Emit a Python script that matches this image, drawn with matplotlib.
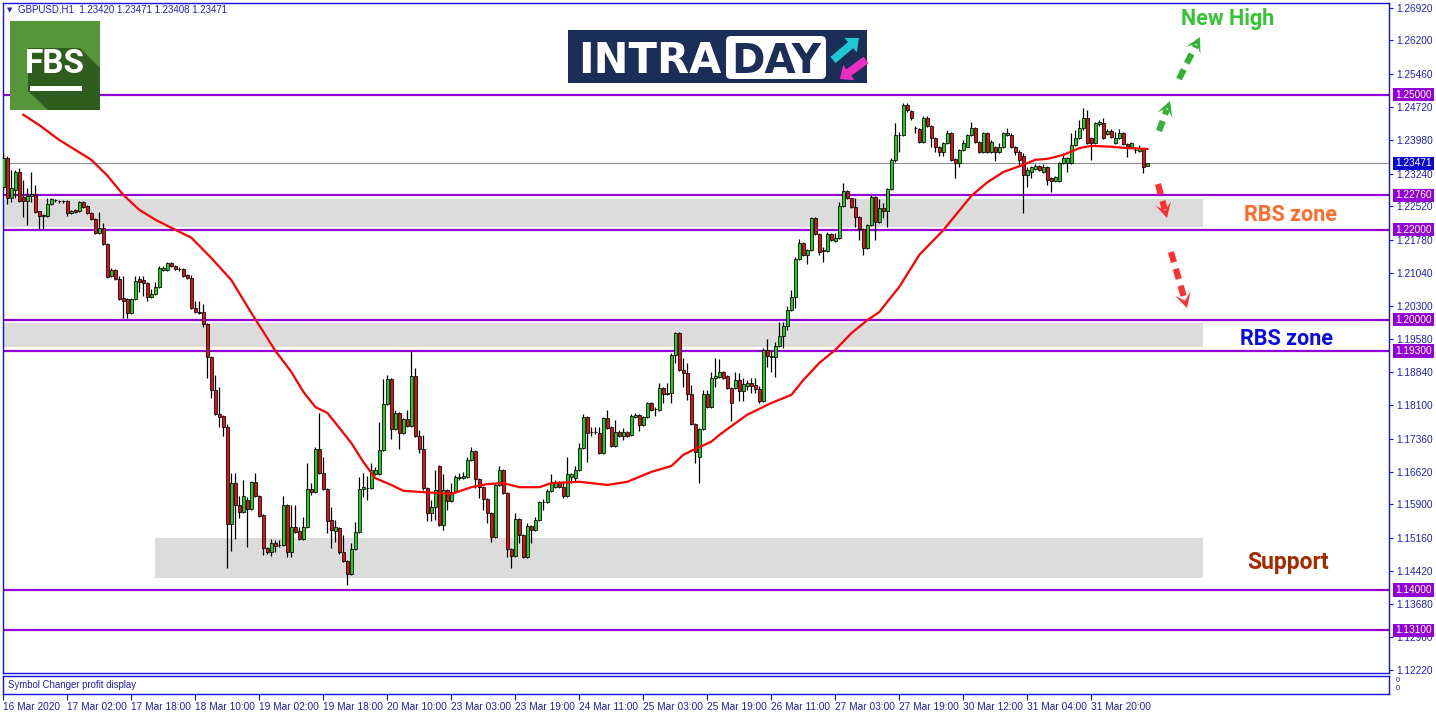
import matplotlib
matplotlib.use('Agg')
import matplotlib.pyplot as plt
import numpy as np
from matplotlib.patches import Rectangle, Polygon, FancyBboxPatch, FancyArrow

plt.rcParams['font.family'] = ['Liberation Sans', 'DejaVu Sans']

# ---- GBPUSD H1 candles (16 Mar 2020 10:00 .. 1 Apr 2020) ----
open_px = [
    1.2294, 1.2359, 1.2270, 1.2288, 1.2328, 1.2272, 1.2264, 1.2275, 1.2277, 1.2242,
    1.2233, 1.2231, 1.2257, 1.2266, 1.2264, 1.2264, 1.2264, 1.2237, 1.2244, 1.2242,
    1.2262, 1.2253, 1.2237, 1.2224, 1.2192, 1.2203, 1.2168, 1.2097, 1.2110, 1.2090,
    1.2048, 1.2046, 1.2015, 1.2046, 1.2090, 1.2088, 1.2081, 1.2051, 1.2057, 1.2073,
    1.2110, 1.2110, 1.2126, 1.2119, 1.2112, 1.2112, 1.2099, 1.2092, 1.2026, 1.2017,
    1.2017, 1.1990, 1.1917, 1.1844, 1.1791, 1.1786, 1.1762, 1.1546, 1.1637, 1.1588,
    1.1573, 1.1600, 1.1580, 1.1640, 1.1609, 1.1566, 1.1493, 1.1484, 1.1504, 1.1500,
    1.1500, 1.1588, 1.1484, 1.1540, 1.1531, 1.1513, 1.1540, 1.1624, 1.1617, 1.1713,
    1.1659, 1.1624, 1.1555, 1.1531, 1.1538, 1.1484, 1.1464, 1.1435, 1.1491, 1.1529,
    1.1624, 1.1626, 1.1626, 1.1657, 1.1657, 1.1711, 1.1813, 1.1868, 1.1757, 1.1793,
    1.1749, 1.1780, 1.1764, 1.1875, 1.1742, 1.1713, 1.1626, 1.1571, 1.1584, 1.1675,
    1.1544, 1.1622, 1.1597, 1.1617, 1.1648, 1.1648, 1.1651, 1.1688, 1.1708, 1.1646,
    1.1628, 1.1602, 1.1571, 1.1518, 1.1633, 1.1666, 1.1615, 1.1491, 1.1475, 1.1558,
    1.1522, 1.1473, 1.1542, 1.1533, 1.1555, 1.1595, 1.1595, 1.1620, 1.1628, 1.1640,
    1.1628, 1.1609, 1.1650, 1.1648, 1.1666, 1.1715, 1.1784, 1.1751, 1.1751, 1.1749,
    1.1704, 1.1782, 1.1762, 1.1720, 1.1751, 1.1742, 1.1751, 1.1744, 1.1784, 1.1789,
    1.1766, 1.1784, 1.1815, 1.1802, 1.1800, 1.1849, 1.1835, 1.1838, 1.1922, 1.1971,
    1.1888, 1.1882, 1.1835, 1.1768, 1.1695, 1.1757, 1.1835, 1.1806, 1.1870, 1.1873,
    1.1884, 1.1875, 1.1849, 1.1849, 1.1866, 1.1842, 1.1853, 1.1860, 1.1855, 1.1846,
    1.1820, 1.1933, 1.1920, 1.1917, 1.1942, 1.1964, 1.1986, 1.2022, 1.2051, 1.2135,
    1.2170, 1.2144, 1.2155, 1.2226, 1.2190, 1.2155, 1.2153, 1.2190, 1.2175, 1.2182,
    1.2253, 1.2286, 1.2270, 1.2250, 1.2228, 1.2201, 1.2159, 1.2210, 1.2272, 1.2217,
    1.2248, 1.2242, 1.2290, 1.2355, 1.2410, 1.2410, 1.2477, 1.2464, 1.2426, 1.2424,
    1.2395, 1.2448, 1.2430, 1.2404, 1.2384, 1.2373, 1.2393, 1.2415, 1.2357, 1.2348,
    1.2377, 1.2384, 1.2410, 1.2426, 1.2395, 1.2373, 1.2415, 1.2373, 1.2384, 1.2373,
    1.2384, 1.2410, 1.2410, 1.2384, 1.2373, 1.2364, 1.2321, 1.2328, 1.2334, 1.2341,
    1.2328, 1.2339, 1.2315, 1.2308, 1.2308, 1.2348, 1.2348, 1.2348, 1.2388, 1.2404,
    1.2426, 1.2448, 1.2404, 1.2393, 1.2435, 1.2437, 1.2412, 1.2419, 1.2393, 1.2404,
    1.2415, 1.2390, 1.2384, 1.2377, 1.2375, 1.2379, 1.23420,
]
high_px = [
    1.2370, 1.2364, 1.2332, 1.2332, 1.2337, 1.2310, 1.2292, 1.2328, 1.2299, 1.2242,
    1.2235, 1.2270, 1.2270, 1.2268, 1.2266, 1.2266, 1.2266, 1.2244, 1.2246, 1.2264,
    1.2264, 1.2255, 1.2240, 1.2226, 1.2240, 1.2214, 1.2170, 1.2115, 1.2112, 1.2097,
    1.2097, 1.2048, 1.2048, 1.2097, 1.2097, 1.2097, 1.2084, 1.2068, 1.2084, 1.2119,
    1.2119, 1.2128, 1.2128, 1.2121, 1.2117, 1.2115, 1.2101, 1.2099, 1.2042, 1.2042,
    1.2035, 1.1993, 1.1920, 1.1877, 1.1851, 1.1789, 1.1768, 1.1659, 1.1659, 1.1609,
    1.1644, 1.1606, 1.1642, 1.1659, 1.1611, 1.1568, 1.1495, 1.1513, 1.1511, 1.1511,
    1.1609, 1.1591, 1.1588, 1.1588, 1.1540, 1.1562, 1.1682, 1.1637, 1.1717, 1.1793,
    1.1695, 1.1626, 1.1584, 1.1555, 1.1540, 1.1522, 1.1466, 1.1504, 1.1551, 1.1651,
    1.1659, 1.1653, 1.1682, 1.1673, 1.1773, 1.1868, 1.1877, 1.1870, 1.1800, 1.1795,
    1.1782, 1.1800, 1.1931, 1.1893, 1.1755, 1.1744, 1.1628, 1.1600, 1.1666, 1.1677,
    1.1657, 1.1624, 1.1637, 1.1655, 1.1659, 1.1662, 1.1695, 1.1717, 1.1711, 1.1648,
    1.1631, 1.1604, 1.1573, 1.1635, 1.1675, 1.1668, 1.1617, 1.1493, 1.1571, 1.1560,
    1.1524, 1.1549, 1.1544, 1.1562, 1.1597, 1.1602, 1.1624, 1.1657, 1.1644, 1.1642,
    1.1642, 1.1695, 1.1659, 1.1675, 1.1726, 1.1791, 1.1786, 1.1762, 1.1762, 1.1762,
    1.1784, 1.1800, 1.1764, 1.1777, 1.1755, 1.1760, 1.1753, 1.1791, 1.1793, 1.1791,
    1.1786, 1.1817, 1.1817, 1.1806, 1.1860, 1.1851, 1.1860, 1.1926, 1.1973, 1.1973,
    1.1915, 1.1904, 1.1855, 1.1771, 1.1760, 1.1844, 1.1844, 1.1884, 1.1915, 1.1913,
    1.1886, 1.1877, 1.1851, 1.1884, 1.1882, 1.1870, 1.1866, 1.1870, 1.1870, 1.1853,
    1.1937, 1.1957, 1.1933, 1.1951, 1.1995, 1.1995, 1.2031, 1.2066, 1.2139, 1.2179,
    1.2173, 1.2157, 1.2228, 1.2228, 1.2192, 1.2162, 1.2195, 1.2192, 1.2192, 1.2262,
    1.2304, 1.2288, 1.2270, 1.2270, 1.2231, 1.2204, 1.2213, 1.2277, 1.2275, 1.2268,
    1.2259, 1.2292, 1.2359, 1.2437, 1.2417, 1.2481, 1.2481, 1.2466, 1.2430, 1.2426,
    1.2452, 1.2452, 1.2432, 1.2406, 1.2386, 1.2395, 1.2421, 1.2417, 1.2359, 1.2379,
    1.2399, 1.2412, 1.2439, 1.2428, 1.2397, 1.2417, 1.2417, 1.2399, 1.2386, 1.2393,
    1.2417, 1.2426, 1.2415, 1.2386, 1.2377, 1.2370, 1.2339, 1.2341, 1.2346, 1.2344,
    1.2346, 1.2341, 1.2317, 1.2319, 1.2350, 1.2370, 1.2362, 1.2415, 1.2421, 1.2443,
    1.2470, 1.2466, 1.2406, 1.2439, 1.2443, 1.2448, 1.2424, 1.2424, 1.2417, 1.2424,
    1.2417, 1.2393, 1.2395, 1.2384, 1.2388, 1.2381, 1.23471,
]
low_px = [
    1.2288, 1.2257, 1.2262, 1.2270, 1.2262, 1.2228, 1.2210, 1.2262, 1.2237, 1.2201,
    1.2201, 1.2228, 1.2255, 1.2262, 1.2259, 1.2259, 1.2231, 1.2235, 1.2237, 1.2240,
    1.2248, 1.2235, 1.2221, 1.2190, 1.2190, 1.2166, 1.2092, 1.2094, 1.2088, 1.2044,
    1.2004, 1.2004, 1.2013, 1.2044, 1.2062, 1.2053, 1.2042, 1.2048, 1.2055, 1.2070,
    1.2108, 1.2108, 1.2117, 1.2110, 1.2108, 1.2094, 1.2090, 1.2024, 1.2015, 1.2013,
    1.1983, 1.1870, 1.1826, 1.1789, 1.1762, 1.1742, 1.1448, 1.1486, 1.1513, 1.1560,
    1.1571, 1.1495, 1.1577, 1.1606, 1.1562, 1.1478, 1.1480, 1.1475, 1.1484, 1.1495,
    1.1497, 1.1473, 1.1473, 1.1526, 1.1511, 1.1511, 1.1538, 1.1611, 1.1615, 1.1657,
    1.1622, 1.1526, 1.1493, 1.1506, 1.1480, 1.1462, 1.1411, 1.1433, 1.1489, 1.1526,
    1.1606, 1.1600, 1.1624, 1.1655, 1.1655, 1.1708, 1.1811, 1.1735, 1.1755, 1.1713,
    1.1746, 1.1762, 1.1762, 1.1740, 1.1704, 1.1622, 1.1553, 1.1553, 1.1555, 1.1542,
    1.1533, 1.1577, 1.1595, 1.1615, 1.1644, 1.1646, 1.1648, 1.1686, 1.1626, 1.1604,
    1.1577, 1.1549, 1.1506, 1.1515, 1.1631, 1.1613, 1.1473, 1.1448, 1.1473, 1.1504,
    1.1471, 1.1471, 1.1504, 1.1531, 1.1553, 1.1577, 1.1593, 1.1617, 1.1626, 1.1626,
    1.1604, 1.1606, 1.1637, 1.1640, 1.1664, 1.1713, 1.1684, 1.1742, 1.1746, 1.1702,
    1.1702, 1.1757, 1.1717, 1.1717, 1.1740, 1.1733, 1.1740, 1.1742, 1.1782, 1.1753,
    1.1764, 1.1782, 1.1797, 1.1786, 1.1797, 1.1815, 1.1833, 1.1815, 1.1904, 1.1886,
    1.1851, 1.1822, 1.1766, 1.1682, 1.1637, 1.1755, 1.1804, 1.1804, 1.1851, 1.1870,
    1.1868, 1.1846, 1.1775, 1.1846, 1.1820, 1.1820, 1.1844, 1.1838, 1.1838, 1.1815,
    1.1817, 1.1895, 1.1884, 1.1873, 1.1940, 1.1937, 1.1977, 1.2020, 1.2026, 1.2133,
    1.2142, 1.2124, 1.2153, 1.2188, 1.2144, 1.2128, 1.2150, 1.2175, 1.2173, 1.2179,
    1.2250, 1.2268, 1.2248, 1.2206, 1.2177, 1.2144, 1.2157, 1.2208, 1.2177, 1.2215,
    1.2226, 1.2206, 1.2288, 1.2350, 1.2373, 1.2408, 1.2461, 1.2443, 1.2415, 1.2392,
    1.2392, 1.2428, 1.2384, 1.2373, 1.2364, 1.2364, 1.2390, 1.2353, 1.2315, 1.2339,
    1.2375, 1.2384, 1.2408, 1.2392, 1.2370, 1.2370, 1.2370, 1.2371, 1.2353, 1.2370,
    1.2381, 1.2408, 1.2381, 1.2366, 1.2344, 1.2237, 1.2294, 1.2315, 1.2332, 1.2330,
    1.2326, 1.2299, 1.2284, 1.2306, 1.2306, 1.2346, 1.2328, 1.2346, 1.2386, 1.2401,
    1.2421, 1.2390, 1.2355, 1.2390, 1.2430, 1.2401, 1.2410, 1.2404, 1.2390, 1.2401,
    1.2388, 1.2362, 1.2381, 1.2370, 1.2373, 1.2326, 1.23408,
]
close_px = [
    1.2359, 1.2270, 1.2292, 1.2328, 1.2264, 1.2264, 1.2275, 1.2279, 1.2240, 1.2231,
    1.2231, 1.2257, 1.2268, 1.2266, 1.2264, 1.2263, 1.2237, 1.2242, 1.2240, 1.2262,
    1.2250, 1.2237, 1.2224, 1.2192, 1.2203, 1.2168, 1.2094, 1.2110, 1.2090, 1.2046,
    1.2042, 1.2015, 1.2046, 1.2086, 1.2084, 1.2081, 1.2051, 1.2057, 1.2073, 1.2115,
    1.2115, 1.2126, 1.2119, 1.2112, 1.2112, 1.2097, 1.2092, 1.2026, 1.2017, 1.2015,
    1.1990, 1.1917, 1.1844, 1.1791, 1.1784, 1.1762, 1.1546, 1.1637, 1.1588, 1.1573,
    1.1609, 1.1580, 1.1640, 1.1609, 1.1564, 1.1493, 1.1484, 1.1504, 1.1497, 1.1500,
    1.1588, 1.1484, 1.1540, 1.1529, 1.1513, 1.1540, 1.1624, 1.1617, 1.1713, 1.1659,
    1.1624, 1.1553, 1.1533, 1.1540, 1.1484, 1.1464, 1.1435, 1.1491, 1.1529, 1.1624,
    1.1628, 1.1626, 1.1666, 1.1666, 1.1711, 1.1813, 1.1868, 1.1757, 1.1793, 1.1749,
    1.1780, 1.1764, 1.1875, 1.1742, 1.1713, 1.1626, 1.1571, 1.1584, 1.1622, 1.1544,
    1.1622, 1.1597, 1.1617, 1.1651, 1.1651, 1.1653, 1.1688, 1.1708, 1.1646, 1.1628,
    1.1602, 1.1571, 1.1518, 1.1633, 1.1666, 1.1615, 1.1491, 1.1475, 1.1558, 1.1522,
    1.1473, 1.1542, 1.1533, 1.1555, 1.1595, 1.1595, 1.1620, 1.1637, 1.1640, 1.1628,
    1.1609, 1.1657, 1.1657, 1.1666, 1.1715, 1.1784, 1.1749, 1.1751, 1.1750, 1.1704,
    1.1782, 1.1760, 1.1720, 1.1751, 1.1742, 1.1751, 1.1742, 1.1786, 1.1789, 1.1766,
    1.1784, 1.1815, 1.1800, 1.1802, 1.1849, 1.1835, 1.1838, 1.1922, 1.1971, 1.1888,
    1.1882, 1.1835, 1.1768, 1.1706, 1.1757, 1.1835, 1.1806, 1.1870, 1.1875, 1.1884,
    1.1870, 1.1849, 1.1815, 1.1866, 1.1842, 1.1857, 1.1860, 1.1853, 1.1846, 1.1820,
    1.1933, 1.1920, 1.1917, 1.1942, 1.1964, 1.1986, 1.2022, 1.2051, 1.2135, 1.2170,
    1.2144, 1.2155, 1.2226, 1.2190, 1.2150, 1.2153, 1.2190, 1.2177, 1.2182, 1.2253,
    1.2286, 1.2270, 1.2250, 1.2228, 1.2201, 1.2159, 1.2210, 1.2272, 1.2217, 1.2248,
    1.2242, 1.2290, 1.2355, 1.2410, 1.2410, 1.2477, 1.2466, 1.2448, 1.2426, 1.2395,
    1.2448, 1.2430, 1.2404, 1.2384, 1.2373, 1.2393, 1.2415, 1.2355, 1.2348, 1.2377,
    1.2393, 1.2410, 1.2426, 1.2395, 1.2373, 1.2415, 1.2373, 1.2395, 1.2373, 1.2384,
    1.2415, 1.2415, 1.2384, 1.2373, 1.2355, 1.2321, 1.2332, 1.2339, 1.2341, 1.2332,
    1.2339, 1.2310, 1.2308, 1.2317, 1.2348, 1.2359, 1.2359, 1.2388, 1.2404, 1.2426,
    1.2448, 1.2393, 1.2393, 1.2437, 1.2439, 1.2404, 1.2419, 1.2406, 1.2404, 1.2415,
    1.2390, 1.2384, 1.2393, 1.2377, 1.2381, 1.2339, 1.23471,
]

# moving average (at these bars)
ma_bar = [5, 9, 14, 18, 22, 26, 30, 34, 38, 42, 47, 52, 57, 62, 68, 72, 75, 78, 81, 83,
          87, 90, 93, 97, 100, 105, 109, 112, 117, 121, 125, 129, 134, 137, 144, 151,
          156, 159, 162, 167, 170, 173, 177, 179, 183, 186, 192, 197, 200, 204, 208,
          212, 216, 219, 222, 224, 229, 235, 242, 246, 250, 255, 258, 261, 265, 269,
          272, 277, 281, 286]
ma_val = [1.2455, 1.2432, 1.2399, 1.2377, 1.2355, 1.2320, 1.2277, 1.2244, 1.2222,
          1.2204, 1.2182, 1.2137, 1.2088, 1.2015, 1.1931, 1.1884, 1.1840, 1.1806,
          1.1793, 1.1771, 1.1726, 1.1684, 1.1648, 1.1633, 1.1620, 1.1617, 1.1615,
          1.1613, 1.1628, 1.1635, 1.1637, 1.1628, 1.1628, 1.1637, 1.1640, 1.1633,
          1.1640, 1.1651, 1.1662, 1.1675, 1.1700, 1.1713, 1.1729, 1.1744, 1.1770,
          1.1789, 1.1815, 1.1833, 1.1866, 1.1904, 1.1933, 1.1970, 1.1999, 1.2017,
          1.2051, 1.2073, 1.2144, 1.2199, 1.2275, 1.2305, 1.2328, 1.2344, 1.2355,
          1.2357, 1.2366, 1.2381, 1.2386, 1.2384, 1.2381, 1.2379]

levels = [1.25000, 1.22760, 1.22000, 1.20000, 1.19300, 1.14000, 1.13100]
last_price = 1.23471
zone_low = [1.2206, 1.1939, 1.1426]
zone_high = [1.2268, 1.1993, 1.1515]
zone_from = [-1, -1, 38]
zone_to = 300

y_ticks = [1.12220, 1.12960, 1.13680, 1.14420, 1.15160, 1.15900, 1.16620, 1.17360,
           1.18100, 1.18840, 1.19580, 1.20300, 1.21040, 1.21780, 1.22520, 1.23240,
           1.23980, 1.24720, 1.25460, 1.26200, 1.26920]
x_labels = ['16 Mar 2020', '17 Mar 02:00', '17 Mar 18:00', '18 Mar 10:00', '19 Mar 02:00',
            '19 Mar 18:00', '20 Mar 10:00', '23 Mar 03:00', '23 Mar 19:00', '24 Mar 11:00',
            '25 Mar 03:00', '25 Mar 19:00', '26 Mar 11:00', '27 Mar 03:00', '27 Mar 19:00',
            '30 Mar 12:00', '31 Mar 04:00', '31 Mar 20:00']

W, H = 1436, 716
fig = plt.figure(figsize=(W / 100, H / 100), dpi=100)


def pbox(x0, y0, x1, y1):
    # pixel rectangle (origin top-left) -> figure fractions
    return [x0 / W, 1 - y1 / H, (x1 - x0) / W, (y1 - y0) / H]


frame = '#1010e0'
navy = '#2020b4'
purple = '#9400d3'
fs = 7.3

ax = fig.add_axes(pbox(3, 3, 1389, 673))
ax2 = fig.add_axes(pbox(3, 676, 1389, 694))

o = np.array(open_px)
c = np.array(close_px)
x = np.arange(len(c))
up = c >= o
body_col = np.where(up, '#22cc22', '#dd1111')

for lo_z, hi_z, x0 in zip(zone_low, zone_high, zone_from):
    ax.add_patch(Rectangle((x0, lo_z), zone_to - x0, hi_z - lo_z,
                           fc='#dcdcdc', ec='none', zorder=1))
for lv in levels:
    ax.axhline(lv, color=purple, lw=1.6, zorder=2)
ax.axhline(last_price, color='#8c8c8c', lw=0.8, zorder=2)

ax.vlines(x, low_px, high_px, color='black', lw=0.9, zorder=3)
ax.bar(x, np.maximum(np.abs(c - o), 1e-6), bottom=np.minimum(o, c), width=0.75,
       color=body_col, edgecolor='black', linewidth=0.55, zorder=4)
ax.plot(ma_bar, ma_val, color='#ff0000', lw=1.6, zorder=5)

ax.set_xlim(-0.075, 346.4)
ax.set_ylim(1.12154, 1.27032)
ax.set_xticks([])
ax.yaxis.tick_right()
ax.set_yticks(y_ticks)
ax.set_yticklabels([f'{v:.5f}' for v in y_ticks])
ax.tick_params(axis='y', direction='out', length=3, width=0.8, color=frame,
               labelcolor=navy, labelsize=fs, pad=2)
for s in ax.spines.values():
    s.set_color(frame)
    s.set_linewidth(1.0)

tr = ax.get_yaxis_transform()
for lv in levels:
    ax.text(1.0045, lv, f'{lv:.5f}', transform=tr, ha='left', va='center', fontsize=fs,
            color='white', bbox=dict(boxstyle='square,pad=0.18', fc=purple, ec='none'),
            zorder=20, clip_on=False)
ax.text(1.0045, last_price, f'{last_price:.5f}', transform=tr, ha='left', va='center',
        fontsize=fs, color='white',
        bbox=dict(boxstyle='square,pad=0.18', fc='#0b0bd0', ec='none'),
        zorder=20, clip_on=False)

# indicator sub-window with the time axis
ax2.set_xlim(-0.075, 346.4)
ax2.set_ylim(0, 1)
ax2.set_yticks([])
ax2.set_xticks(np.arange(len(x_labels)) * 16)
ax2.set_xticklabels(x_labels)
for lbl in ax2.get_xticklabels():
    lbl.set_ha('left')
ax2.tick_params(axis='x', direction='out', length=4, width=0.8, color=frame,
                labelcolor=navy, labelsize=fs, pad=1.5)
for s in ax2.spines.values():
    s.set_color(frame)
    s.set_linewidth(1.0)
ax2.text(0.0036, 0.5, 'Symbol Changer profit display', transform=ax2.transAxes,
         ha='left', va='center', fontsize=6.9, color=navy)

# overlay in pixel coordinates for header, logos and hand-drawn notes
axo = fig.add_axes([0, 0, 1, 1])
axo.set_xlim(0, W)
axo.set_ylim(H, 0)
axo.axis('off')

axo.text(7, 10, '\u25bc', fontsize=5, color=navy, va='center', family='DejaVu Sans')
axo.text(18, 10, 'GBPUSD,H1  1.23420 1.23471 1.23408 1.23471', fontsize=7.0,
         color=navy, va='center')
axo.text(1396, 680, '0', fontsize=5.5, color=navy, va='center')
axo.text(1396, 689, '0', fontsize=5.5, color=navy, va='center')

# FBS logo
axo.add_patch(Rectangle((10, 21), 90, 89, fc='#56953a', ec='none'))
axo.add_patch(Polygon([(28, 48), (80, 48), (100, 68), (100, 110), (48, 110), (28, 91)],
                      closed=True, fc='#2f5d1f', ec='none'))
axo.text(55, 64, 'FBS', color='white', fontsize=24, fontweight='bold', family='Roboto',
         ha='center', va='center')
axo.add_patch(Rectangle((30, 86), 52, 5, fc='white', ec='none'))

# INTRADAY logo
axo.add_patch(Rectangle((568, 30), 299, 53, fc='#1b2e57', ec='none'))
axo.text(578, 73, 'INTRA', color='white', fontsize=30, fontweight='bold',
         family='DejaVu Sans', va='baseline')
axo.add_patch(FancyBboxPatch((726, 36), 100, 43, boxstyle='round,pad=0,rounding_size=5',
                             fc='white', ec='none'))
axo.text(776, 73, 'DAY', color='#1b2e57', fontsize=29, fontweight='bold',
         family='DejaVu Sans', ha='center', va='baseline')
axo.add_patch(FancyArrow(833, 60, 26, -22, width=8, head_width=19, head_length=11,
                         length_includes_head=True, fc='#1ec8d2', ec='none'))
axo.add_patch(FancyArrow(866, 60, -26, 19, width=8, head_width=19, head_length=11,
                         length_includes_head=True, fc='#ee2bc4', ec='none'))


def dashed_arrow(p0, tip, color):
    p0 = np.array(p0, float)
    tip = np.array(tip, float)
    d = (tip - p0) / np.hypot(*(tip - p0))
    nrm = np.array([-d[1], d[0]])
    L, hw = 15, 8
    p1 = tip - 0.6 * L * d
    axo.plot([p0[0], p1[0]], [p0[1], p1[1]], color=color, lw=4.5,
             ls=(0, (1.7, 1.1)), dash_capstyle='butt')
    head = [tip, tip - L * d + hw * nrm, tip - 0.5 * L * d, tip - L * d - hw * nrm]
    axo.add_patch(Polygon(head, closed=True, fc=color, ec='none'))


dashed_arrow((1179, 79), (1200, 37), '#34b034')
dashed_arrow((1159, 131), (1170, 101), '#34b034')
dashed_arrow((1158, 184), (1167, 218), '#ff3030')
dashed_arrow((1171, 252), (1187, 308), '#ff3030')

note = dict(fontsize=15.5, fontweight='bold', family='Roboto', ha='center', va='center')
axo.text(1228, 19, 'New High', color='#35c435', **note)
axo.text(1290, 215, 'RBS zone', color='#ff6b2a', **note)
axo.text(1287, 339, 'RBS zone', color='#0a0ae6', **note)
axo.text(1288, 563, 'Support', color='#a52a00', fontsize=16.5, fontweight='bold',
         family='Roboto', ha='center', va='center')

fig.savefig('out.png', dpi=100, facecolor='white')
